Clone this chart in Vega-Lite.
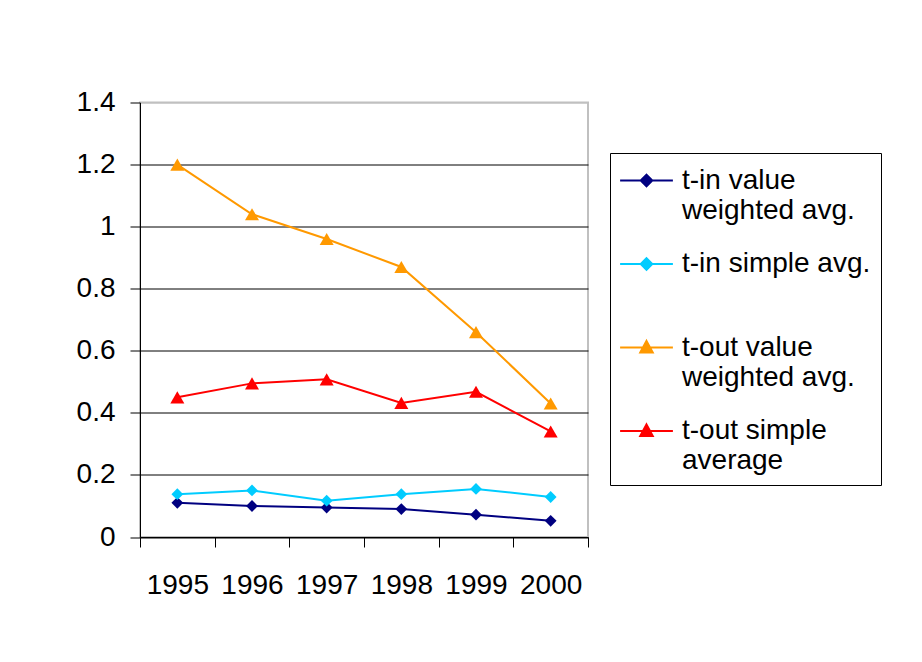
{
  "$schema": "https://vega.github.io/schema/vega-lite/v6.json",
  "width": 448,
  "height": 434.5,
  "autosize": {"type": "none"},
  "padding": {"left": 140, "top": 102.5, "right": 334, "bottom": 125},
  "background": "white",
  "config": {
    "view": {"stroke": "#c0c0c0", "strokeWidth": 2},
    "font": "Liberation Sans"
  },
  "data": {
    "values": [
      {"year": 1995, "series": "t-in value weighted avg.", "value": 0.11},
      {"year": 1996, "series": "t-in value weighted avg.", "value": 0.1},
      {"year": 1997, "series": "t-in value weighted avg.", "value": 0.095},
      {"year": 1998, "series": "t-in value weighted avg.", "value": 0.09},
      {"year": 1999, "series": "t-in value weighted avg.", "value": 0.072},
      {"year": 2000, "series": "t-in value weighted avg.", "value": 0.052},
      {"year": 1995, "series": "t-in simple avg.", "value": 0.138},
      {"year": 1996, "series": "t-in simple avg.", "value": 0.15},
      {"year": 1997, "series": "t-in simple avg.", "value": 0.117},
      {"year": 1998, "series": "t-in simple avg.", "value": 0.138},
      {"year": 1999, "series": "t-in simple avg.", "value": 0.155},
      {"year": 2000, "series": "t-in simple avg.", "value": 0.129},
      {"year": 1995, "series": "t-out value weighted avg.", "value": 1.2},
      {"year": 1996, "series": "t-out value weighted avg.", "value": 1.04},
      {"year": 1997, "series": "t-out value weighted avg.", "value": 0.96},
      {"year": 1998, "series": "t-out value weighted avg.", "value": 0.87},
      {"year": 1999, "series": "t-out value weighted avg.", "value": 0.66},
      {"year": 2000, "series": "t-out value weighted avg.", "value": 0.43},
      {"year": 1995, "series": "t-out simple average", "value": 0.45},
      {"year": 1996, "series": "t-out simple average", "value": 0.495},
      {"year": 1997, "series": "t-out simple average", "value": 0.508},
      {"year": 1998, "series": "t-out simple average", "value": 0.432},
      {"year": 1999, "series": "t-out simple average", "value": 0.468},
      {"year": 2000, "series": "t-out simple average", "value": 0.34}
    ]
  },
  "encoding": {
    "x": {
      "field": "year",
      "type": "quantitative",
      "scale": {"domain": [1994.5, 2000.5], "nice": false, "zero": false},
      "axis": {
        "values": [1994.5, 1995.5, 1996.5, 1997.5, 1998.5, 1999.5, 2000.5],
        "labelExpr": "datum.value < 2000 ? format(datum.value + 0.5, 'd') : ''",
        "labelOffset": 37.33,
        "labelFlush": false,
        "labelOverlap": false,
        "labelBound": false,
        "labelAngle": 0,
        "tickSize": 10,
        "tickColor": "black",
        "domainColor": "black",
        "grid": false,
        "title": null,
        "labelFont": "Liberation Sans",
        "labelFontSize": 28,
        "labelColor": "black",
        "labelPadding": 24
      }
    },
    "y": {
      "field": "value",
      "type": "quantitative",
      "scale": {"domain": [0, 1.4], "nice": false},
      "axis": {
        "values": [0, 0.2, 0.4, 0.6, 0.8, 1, 1.2, 1.4],
        "format": ".1~f",
        "grid": true,
        "gridColor": {"condition": {"test": "datum.value >= 1.39", "value": "#c0c0c0"}, "value": "black"},
        "gridOpacity": 1,
        "tickSize": 10,
        "tickColor": "black",
        "domainColor": "black",
        "title": null,
        "labelFont": "Liberation Sans",
        "labelFontSize": 28,
        "labelColor": "black",
        "labelPadding": 15
      }
    },
    "color": {
      "field": "series",
      "type": "nominal",
      "scale": {
        "domain": ["t-in value weighted avg.", "t-in simple avg.", "t-out value weighted avg.", "t-out simple average"],
        "range": ["#000080", "#00ccff", "#ff9900", "#ff0000"]
      },
      "legend": {
        "orient": "none",
        "legendX": 470,
        "legendY": 50.5,
        "title": null,
        "strokeColor": "black",
        "fillColor": "white",
        "padding": 10,
        "labelFont": "Liberation Sans",
        "labelFontSize": 28,
        "labelLineHeight": 35,
        "labelLimit": 400,
        "labelColor": "black",
        "labelOffset": 18,
        "symbolOffset": 9,
        "rowPadding": 21.5,
        "symbolSize": 1089,
        "symbolStrokeWidth": 2,
        "labelExpr": "datum.label == 't-in value weighted avg.' ? ['t-in value', 'weighted avg.'] : datum.label == 't-in simple avg.' ? ['t-in simple avg.', ''] : datum.label == 't-out value weighted avg.' ? ['t-out value', 'weighted avg.'] : ['t-out simple', 'average']",
        "encoding": {
          "symbols": {
            "shape": {
              "condition": {"test": "indexof(datum.value, 't-out') >= 0", "value": "M-1.6,0H1.6M0,-0.4L0.38,0.31L-0.38,0.31Z"},
              "value": "M-1.6,0H1.6M0,-0.35L0.35,0L0,0.35L-0.35,0Z"
            },
            "fill": {"value": {"expr": "scale('color', datum.value)"}},
            "stroke": {"value": {"expr": "scale('color', datum.value)"}},
            "opacity": {"value": 1},
            "fillOpacity": {"value": 1}
          }
        }
      }
    }
  },
  "layer": [
    {"mark": {"type": "line", "strokeWidth": 2}},
    {
      "transform": [{"filter": "indexof(datum.series, 't-in') == 0"}],
      "mark": {"type": "point", "filled": true, "opacity": 1, "shape": "diamond", "size": 140}
    },
    {
      "transform": [{"filter": "indexof(datum.series, 't-out') == 0"}],
      "mark": {"type": "point", "filled": true, "opacity": 1, "shape": "triangle-up", "size": 196}
    }
  ]
}
